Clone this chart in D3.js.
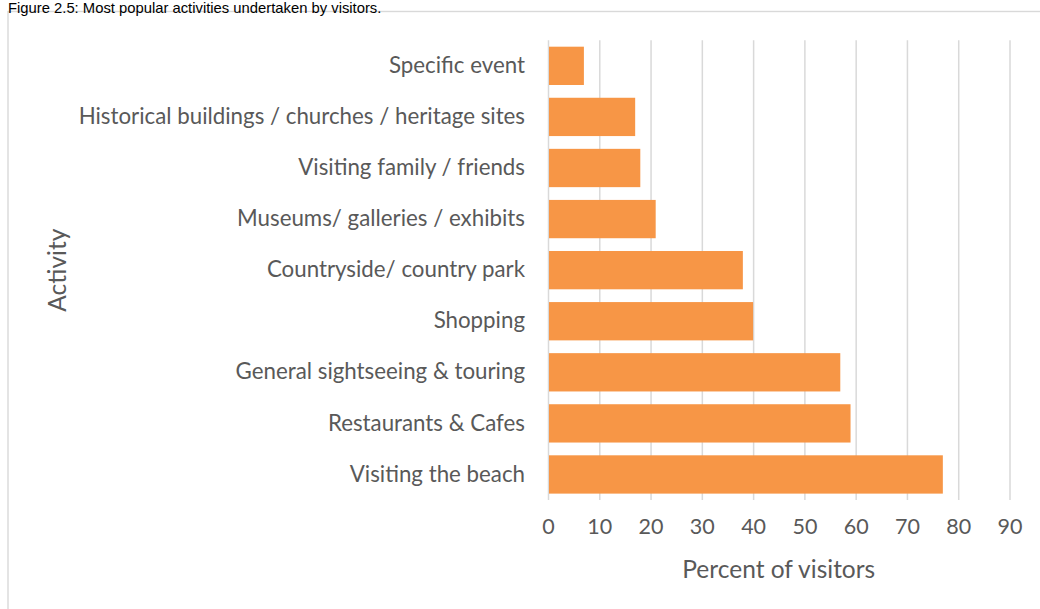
<!DOCTYPE html>
<html>
<head>
<meta charset="utf-8">
<script src="https://cdn.jsdelivr.net/npm/d3@7"></script>
<style>
  html, body { margin: 0; padding: 0; background: #fff; }
  svg { display: block; }
</style>
</head>
<body>
<svg id="chart" width="1040" height="609"></svg>
<script>
// Activities, listed top to bottom as they appear on the chart
const activities = [
  "Specific event",
  "Historical buildings / churches / heritage sites",
  "Visiting family / friends",
  "Museums/ galleries / exhibits",
  "Countryside/ country park",
  "Shopping",
  "General sightseeing & touring",
  "Restaurants & Cafes",
  "Visiting the beach"
];
// Share of visitors taking part in each activity (%)
const percentVisitors = [7, 17, 18, 21, 38, 40, 57, 59, 77];
// Horizontal axis ticks
const xTicks = [0, 10, 20, 30, 40, 50, 60, 70, 80, 90];

const titleText = "Figure 2.5: Most popular activities undertaken by visitors.";
const xAxisTitle = "Percent of visitors";
const yAxisTitle = "Activity";

const svg = d3.select("#chart");
const labelFont = "Lato, 'Open Sans', sans-serif";
const textColor = "#595959";
const gridColor = "#d9d9d9";
const barColor = "#F79646";

const plot = { left: 548, right: 1009.5, top: 40.3, bottom: 500 };

// Chart frame (runs off the right and bottom edges)
svg.append("rect")
  .attr("x", 8).attr("y", 11.5)
  .attr("width", 1100).attr("height", 700)
  .attr("fill", "none")
  .attr("stroke", gridColor)
  .attr("stroke-width", 1.4);

// Figure caption above the frame
svg.append("text")
  .attr("x", 8).attr("y", 12.5)
  .attr("font-family", "'Liberation Sans', Arial, sans-serif")
  .attr("font-size", 14.8)
  .attr("fill", "#000")
  .text(titleText);

const x = d3.scaleLinear()
  .domain([0, 90])
  .range([plot.left, plot.right]);

const y = d3.scaleBand()
  .domain(activities)
  .range([plot.top, plot.bottom])
  .paddingInner(0.25)
  .paddingOuter(0.125);

// Vertical gridlines plus tick labels, built from the x axis
const xAxis = svg.append("g")
  .attr("transform", `translate(0,${plot.bottom})`)
  .call(d3.axisBottom(x)
    .tickValues(xTicks)
    .tickSize(-(plot.bottom - plot.top))
    .tickPadding(19)
    .tickFormat(d3.format("d")));
xAxis.select(".domain").remove();
xAxis.selectAll(".tick line")
  .attr("stroke", gridColor)
  .attr("stroke-width", 1.5);
xAxis.selectAll(".tick text")
  .attr("fill", textColor)
  .attr("font-family", labelFont)
  .attr("font-size", 21.5);

// Bars
svg.append("g")
  .selectAll("rect")
  .data(activities.map((a, i) => ({ activity: a, value: percentVisitors[i] })))
  .join("rect")
  .attr("x", x(0) + 1)
  .attr("y", d => y(d.activity))
  .attr("width", d => x(d.value) - x(0) - 1)
  .attr("height", y.bandwidth())
  .attr("fill", barColor);

// Category labels
const yAxis = svg.append("g")
  .attr("transform", `translate(${plot.left},0)`)
  .call(d3.axisLeft(y).tickSize(0).tickPadding(23));
yAxis.select(".domain").remove();
yAxis.selectAll(".tick text")
  .attr("fill", textColor)
  .attr("font-family", labelFont)
  .attr("font-size", 22.3);

// Axis titles
svg.append("text")
  .attr("x", (plot.left + plot.right) / 2)
  .attr("y", 578)
  .attr("text-anchor", "middle")
  .attr("fill", textColor)
  .attr("font-family", labelFont)
  .attr("font-size", 24.5)
  .text(xAxisTitle);

svg.append("text")
  .attr("transform", `translate(66,${(plot.top + plot.bottom) / 2}) rotate(-90)`)
  .attr("text-anchor", "middle")
  .attr("fill", textColor)
  .attr("font-family", labelFont)
  .attr("font-size", 24.5)
  .text(yAxisTitle);
</script>
</body>
</html>
